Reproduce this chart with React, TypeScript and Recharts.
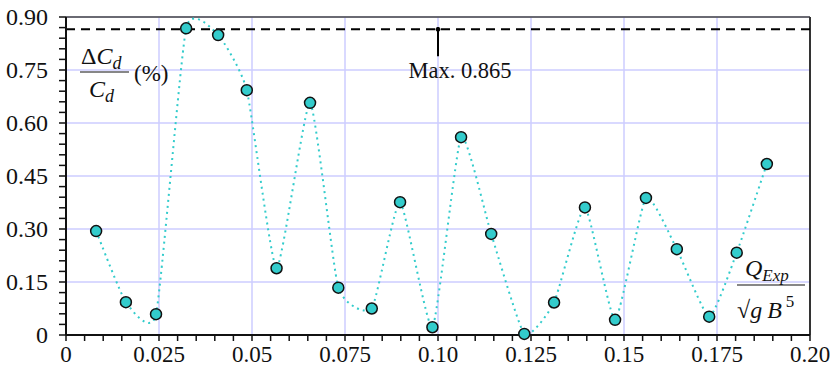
import React from "react";
import {
  LineChart,
  Line,
  XAxis,
  YAxis,
  CartesianGrid,
  ReferenceLine,
  ReferenceDot,
} from "recharts";

const qValues = [
  0.0081, 0.0161, 0.0242, 0.0323, 0.0409, 0.0486, 0.0566, 0.0656, 0.0732,
  0.0822, 0.0898, 0.0985, 0.1062, 0.1143, 0.1232, 0.1312, 0.1395, 0.1476,
  0.1559, 0.1642, 0.1729, 0.1803, 0.1884,
];
const dcValues = [
  0.294, 0.093, 0.059, 0.868, 0.849, 0.693, 0.189, 0.657, 0.134, 0.075, 0.376,
  0.022, 0.56, 0.286, 0.003, 0.092, 0.361, 0.043, 0.388, 0.243, 0.052, 0.233,
  0.484,
];

const xTicks = Array.from({ length: 41 }, (_, i) => +(i * 0.005).toFixed(3));
const xLabels = ["0", "0.025", "0.05", "0.075", "0.10", "0.125", "0.15", "0.175", "0.20"];
const xMajor = [0, 0.025, 0.05, 0.075, 0.1, 0.125, 0.15, 0.175, 0.2];
const yTicks = Array.from({ length: 31 }, (_, i) => +(i * 0.03).toFixed(2));
const yLabels = ["0", "0.15", "0.30", "0.45", "0.60", "0.75", "0.90"];
const yMajor = [0, 0.15, 0.3, 0.45, 0.6, 0.75, 0.9];
const maxValue = 0.865;
const maxLabel = "Max. 0.865";

const data = qValues.map((q, i) => ({ q, dc: dcValues[i] }));

const FONT = '"Liberation Serif", "Times New Roman", Times, serif';

// cardinal spline curve factory (tension 0.5)
function cardinalCurve(context: any) {
  const k = 1 / 12;
  let pts: [number, number][] = [];
  return {
    areaStart() {},
    areaEnd() {},
    lineStart() {
      pts = [];
    },
    point(x: number, y: number) {
      pts.push([+x, +y]);
    },
    lineEnd() {
      const n = pts.length;
      if (n === 0) return;
      context.moveTo(pts[0][0], pts[0][1]);
      for (let i = 0; i < n - 1; i++) {
        const p0 = pts[i - 1] || pts[i];
        const p1 = pts[i];
        const p2 = pts[i + 1];
        const p3 = pts[i + 2] || pts[i + 1];
        context.bezierCurveTo(
          p1[0] + (p2[0] - p0[0]) * k,
          p1[1] + (p2[1] - p0[1]) * k,
          p2[0] - (p3[0] - p1[0]) * k,
          p2[1] - (p3[1] - p1[1]) * k,
          p2[0],
          p2[1]
        );
      }
    },
  };
}

const XTick = (props: any) => {
  const { x, y, index } = props;
  if (index % 5 !== 0) return null;
  return (
    <text x={x} y={y} dy="0.71em" textAnchor="middle" style={{ fontFamily: FONT, fontSize: 23 }} fill="#111">
      {xLabels[index / 5]}
    </text>
  );
};

const YTick = (props: any) => {
  const { x, y, index } = props;
  if (index % 5 !== 0) return null;
  return (
    <text x={x} y={y} dy="0.34em" textAnchor="end" style={{ fontFamily: FONT, fontSize: 24 }} fill="#111">
      {yLabels[index / 5]}
    </text>
  );
};

export default function App() {
  return (
    <div style={{ position: "absolute", left: 0, top: 0, width: 830, height: 368, background: "#fff" }}>
      <LineChart
        width={830}
        height={368}
        data={data}
        margin={{ top: 17, right: 20, bottom: 0, left: 0 }}
      >
        <CartesianGrid
          stroke="#ccccff"
          strokeWidth={1.5}
          verticalValues={xMajor}
          horizontalValues={yMajor}
        />
        <XAxis
          dataKey="q"
          type="number"
          domain={[0, 0.2]}
          ticks={xTicks}
          interval={0}
          height={33}
          tickSize={6}
          tickMargin={5}
          tick={<XTick />}
          axisLine={{ stroke: "#111", strokeWidth: 2 }}
          tickLine={{ stroke: "#111", strokeWidth: 1.5 }}
        />
        <YAxis
          type="number"
          domain={[0, 0.9]}
          ticks={yTicks}
          interval={0}
          width={66}
          tickSize={7}
          tickMargin={11}
          tick={<YTick />}
          axisLine={{ stroke: "#111", strokeWidth: 2 }}
          tickLine={{ stroke: "#111", strokeWidth: 1.5 }}
        />
        <ReferenceLine y={0.9} stroke="#444" strokeWidth={1.5} />
        <ReferenceLine x={0.2} stroke="#333" strokeWidth={2} />
        <ReferenceLine y={maxValue} stroke="#000" strokeWidth={2} strokeDasharray="9 6" />
        <ReferenceLine
          segment={[
            { x: 0.1, y: maxValue },
            { x: 0.1, y: 0.789 },
          ]}
          stroke="#000"
          strokeWidth={2}
        />
        <ReferenceDot x={0.1} y={maxValue} r={2} fill="#000" stroke="#000" />
        <Line
          type={cardinalCurve as any}
          dataKey="dc"
          stroke="#33cccc"
          strokeWidth={2}
          strokeDasharray="2 4"
          isAnimationActive={false}
          dot={{ r: 5.5, fill: "#33cccc", stroke: "#111", strokeWidth: 1.5, strokeDasharray: "" }}
        />
      </LineChart>
      <svg
        width={830}
        height={368}
        style={{ position: "absolute", left: 0, top: 0, pointerEvents: "none", fontFamily: FONT }}
      >
        <text x={460} y={78} textAnchor="middle" style={{ fontSize: 22.5 }} fill="#111">
          {maxLabel}
        </text>
        {/* ΔCd / Cd (%) */}
        <text x={81} y={64} style={{ fontSize: 24 }} fill="#111">
          Δ<tspan fontStyle="italic">C</tspan>
          <tspan fontStyle="italic" style={{ fontSize: 18 }} dy={5}>d</tspan>
        </text>
        <line x1={80} y1={72} x2={129} y2={72} stroke="#111" strokeWidth={1.2} />
        <text x={89} y={97} style={{ fontSize: 24 }} fill="#111" fontStyle="italic">
          C<tspan style={{ fontSize: 18 }} dy={5}>d</tspan>
        </text>
        <text x={134} y={81} style={{ fontSize: 23 }} fill="#111">(%)</text>
        {/* Q_Exp / sqrt(g B^5) */}
        <text x={745} y={276} style={{ fontSize: 24 }} fill="#111" fontStyle="italic">
          Q<tspan style={{ fontSize: 17 }} dy={5}>Exp</tspan>
        </text>
        <line x1={737} y1={285} x2={805} y2={285} stroke="#111" strokeWidth={1.2} />
        <text x={737} y={318} style={{ fontSize: 24 }} fill="#111">
          √<tspan fontStyle="italic">g</tspan>
          <tspan fontStyle="italic" dx={5}>B</tspan>
          <tspan style={{ fontSize: 17 }} dx={4} dy={-11}>5</tspan>
        </text>
      </svg>
    </div>
  );
}
